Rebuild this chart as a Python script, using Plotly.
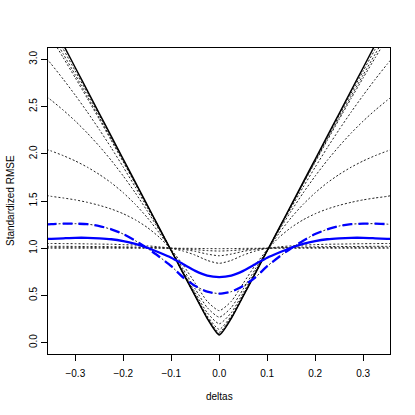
"""Standardized RMSE against the bias delta, one curve per borrowing rule."""

import plotly.graph_objects as go

# delta grid (right half; the curves are symmetric about 0)
deltas_half = [0, 0.025, 0.05, 0.075, 0.1, 0.125, 0.15, 0.175, 0.2, 0.225, 0.25, 0.275, 0.3, 0.325, 0.35, 0.36]

full_borrow = [0.082, 0.256, 0.492, 0.732, 0.974, 1.215, 1.457, 1.700, 1.942, 2.184, 2.426, 2.669, 2.911, 3.154, 3.396, 3.493]

# black dotted family, from closest-to-full-borrowing down to near 1
dotted_t3 = [0.089, 0.259, 0.493, 0.733, 0.974, 1.214, 1.454, 1.694, 1.932, 2.170, 2.406, 2.641, 2.875, 3.107, 3.338, 3.437]
dotted_t2 = [0.095, 0.261, 0.495, 0.734, 0.974, 1.213, 1.451, 1.687, 1.921, 2.154, 2.383, 2.610, 2.834, 3.055, 3.273, 3.359]
dotted_t1 = [0.110, 0.267, 0.497, 0.735, 0.974, 1.211, 1.447, 1.681, 1.912, 2.140, 2.365, 2.586, 2.803, 3.016, 3.224, 3.306]
dotted_30 = [0.141, 0.283, 0.507, 0.741, 0.975, 1.204, 1.429, 1.647, 1.858, 2.062, 2.256, 2.442, 2.619, 2.788, 2.948, 3.009]
dotted_26 = [0.200, 0.317, 0.528, 0.753, 0.976, 1.191, 1.394, 1.586, 1.764, 1.929, 2.080, 2.219, 2.346, 2.461, 2.566, 2.605]
dotted_20 = [0.270, 0.371, 0.568, 0.778, 0.979, 1.161, 1.324, 1.465, 1.587, 1.692, 1.781, 1.858, 1.924, 1.980, 2.029, 2.046]
dotted_15 = [0.339, 0.437, 0.628, 0.820, 0.984, 1.116, 1.220, 1.301, 1.365, 1.415, 1.454, 1.486, 1.512, 1.532, 1.549, 1.559]
dotted_105 = [0.840, 0.871, 0.927, 0.970, 0.998, 1.015, 1.025, 1.033, 1.038, 1.042, 1.044, 1.046, 1.048, 1.049, 1.050, 1.050]
dotted_102 = [0.920, 0.938, 0.967, 0.987, 0.999, 1.006, 1.010, 1.013, 1.015, 1.017, 1.018, 1.018, 1.019, 1.020, 1.020, 1.020]
dotted_101 = [0.970, 0.975, 0.985, 0.994, 1.000, 1.003, 1.005, 1.006, 1.007, 1.008, 1.009, 1.009, 1.010, 1.010, 1.010, 1.010]
dotted_100 = [0.995, 0.996, 0.998, 0.999, 1.000, 1.000, 1.000, 1.000, 1.000, 1.000, 1.000, 1.000, 1.000, 1.000, 1.000, 1.000]

blue_solid = [0.695, 0.710, 0.760, 0.830, 0.900, 0.955, 1.005, 1.045, 1.075, 1.095, 1.105, 1.110, 1.110, 1.105, 1.100, 1.100]
blue_dashdot = [0.520, 0.540, 0.600, 0.690, 0.810, 0.910, 1.000, 1.080, 1.150, 1.200, 1.235, 1.255, 1.260, 1.260, 1.255, 1.250]

x_ticks = [-0.3, -0.2, -0.1, 0.0, 0.1, 0.2, 0.3]
x_tick_labels = ["\u22120.3", "\u22120.2", "\u22120.1", "0.0", "0.1", "0.2", "0.3"]
y_ticks = [0.0, 0.5, 1.0, 1.5, 2.0, 2.5, 3.0]
y_tick_labels = ["0.0", "0.5", "1.0", "1.5", "2.0", "2.5", "3.0"]

FONT = "Liberation Sans, Arial, Helvetica, sans-serif"


def mirror(half):
    """Both halves of a symmetric curve, left to right."""
    return list(reversed(half[1:])) + list(half)


deltas = [-d for d in reversed(deltas_half[1:])] + list(deltas_half)

fig = go.Figure()

dotted_family = [
    dotted_100, dotted_101, dotted_102, dotted_105,
    dotted_15, dotted_20, dotted_26, dotted_30,
    dotted_t1, dotted_t2, dotted_t3, blue_dashdot,
]
for values in dotted_family:
    fig.add_trace(
        go.Scatter(
            x=deltas,
            y=mirror(values),
            mode="lines",
            line={"color": "#222222", "width": 1, "dash": "2px,2px", "shape": "spline", "smoothing": 0.6},
            hoverinfo="skip",
        )
    )

fig.add_trace(
    go.Scatter(
        x=deltas,
        y=mirror(full_borrow),
        mode="lines",
        line={"color": "black", "width": 1.5, "shape": "spline", "smoothing": 0.6},
    )
)
fig.add_trace(
    go.Scatter(
        x=deltas,
        y=mirror(blue_solid),
        mode="lines",
        line={"color": "#0000FF", "width": 2.3, "shape": "spline", "smoothing": 0.6},
    )
)
fig.add_trace(
    go.Scatter(
        x=deltas,
        y=mirror(blue_dashdot),
        mode="lines",
        line={"color": "#0000FF", "width": 2.3, "dash": "10px,6px", "shape": "spline", "smoothing": 0.6},
    )
)

axis_common = {
    "showline": True,
    "linecolor": "black",
    "linewidth": 1,
    "mirror": True,
    "ticks": "outside",
    "ticklen": 6,
    "tickcolor": "black",
    "tickwidth": 1,
    "showgrid": False,
    "zeroline": False,
    "tickfont": {"family": FONT, "size": 10, "color": "black"},
}

fig.update_xaxes(
    range=[-0.357, 0.356],
    tickvals=x_ticks,
    ticktext=x_tick_labels,
    ticklabelstandoff=4,
    **axis_common,
)
fig.update_yaxes(
    range=[-0.12, 3.12],
    tickvals=y_ticks,
    ticktext=y_tick_labels,
    tickangle=-90,
    **axis_common,
)

fig.add_annotation(
    text="deltas", xref="paper", yref="paper", x=0.5, y=-0.14,
    showarrow=False, xanchor="center", yanchor="middle",
    font={"family": FONT, "size": 10, "color": "black"},
)
fig.add_annotation(
    text="Standardized RMSE", xref="paper", yref="paper", x=-0.111, y=0.5,
    showarrow=False, xanchor="center", yanchor="middle", textangle=-90,
    font={"family": FONT, "size": 10, "color": "black"},
)

fig.update_layout(
    width=415,
    height=415,
    margin={"l": 48, "r": 25, "t": 48, "b": 61},
    showlegend=False,
    hovermode=False,
    plot_bgcolor="white",
    paper_bgcolor="white",
    font={"family": FONT, "size": 10, "color": "black"},
)

# drop the browser's default 8px body margin so the figure sits at the corner
fig.write_html(
    "out.html",
    config={"displayModeBar": False},
    post_script="document.body.style.margin = '0';",
)
